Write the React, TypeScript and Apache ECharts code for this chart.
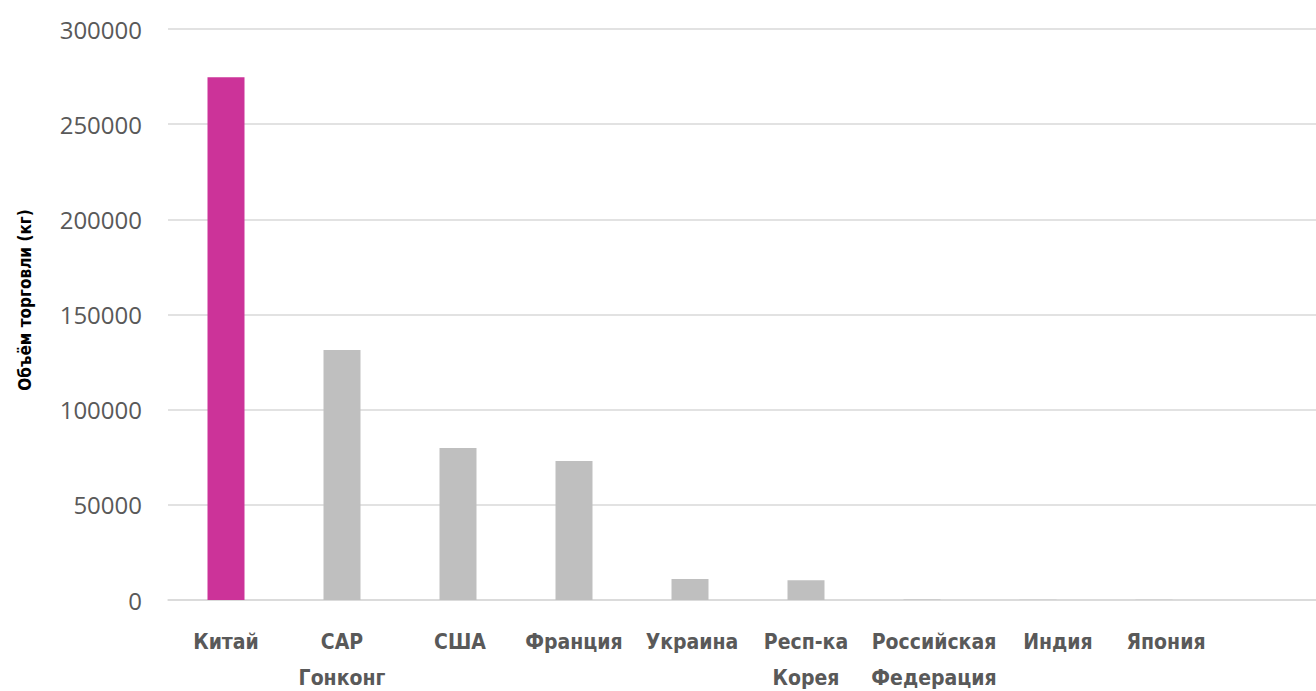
import React, { useEffect, useRef } from "react";
import * as echarts from "echarts";

const categories = [
  "Китай",
  "САР\nГонконг",
  "США",
  "Франция",
  "Украина",
  "Респ-ка\nКорея",
  "Российская\nФедерация",
  "Индия",
  "Япония",
  "",
];
const values = [274700, 131300, 79900, 73000, 11000, 10400, 200, 120, 80, null];
const highlightIndex = 0;
const yTicks = { min: 0, max: 300000, interval: 50000 };
const yAxisTitle = "Объём торговли (кг)";

const HIGHLIGHT = "#CC3399";
const GREY = "#BFBFBF";
const labelShift = [0, 0, 2, 0, 2, 0, 12, 20, 12, 0];

export default function App() {
  const ref = useRef<HTMLDivElement>(null);
  useEffect(() => {
    document.body.style.margin = "0";
    const chart = echarts.init(ref.current!, null, { renderer: "svg" });
    chart.setOption({
      animation: false,
      backgroundColor: "#ffffff",
      grid: {
        left: 168,
        top: 29,
        width: 1160,
        height: 571,
        containLabel: false,
        outerBoundsMode: "none",
      },
      xAxis: {
        type: "category",
        data: categories.map((c, i) => ({
          value: c,
          textStyle: labelShift[i] ? { padding: [0, 0, 0, labelShift[i] * 2] } : {},
        })),
        axisLine: { show: true, lineStyle: { color: "#D9D9D9", width: 1.5 } },
        axisTick: { show: false },
        axisLabel: {
          interval: 0,
          margin: 24,
          color: "#595959",
          fontFamily: "'DejaVu Sans Condensed', sans-serif",
          fontWeight: "bold",
          fontSize: 21,
          lineHeight: 36,
        },
      },
      yAxis: {
        type: "value",
        min: yTicks.min,
        max: yTicks.max,
        interval: yTicks.interval,
        axisLine: { show: false },
        axisTick: { show: false },
        splitLine: { lineStyle: { color: "#D9D9D9", width: 1.5 } },
        axisLabel: {
          margin: 26,
          color: "#595959",
          fontFamily: "'Open Sans', sans-serif",
          fontSize: 24,
          formatter: (v: number) => String(v),
        },
      },
      graphic: [
        {
          type: "text",
          x: 25,
          y: 300,
          rotation: Math.PI / 2,
          style: {
            text: yAxisTitle,
            fill: "#000000",
            font: "bold 17px 'DejaVu Sans Condensed', sans-serif",
            align: "center",
            verticalAlign: "middle",
          },
        },
      ],
      series: [
        {
          type: "bar",
          barWidth: 37,
          data: values.map((v, i) => ({
            value: v,
            itemStyle: { color: i === highlightIndex ? HIGHLIGHT : GREY },
          })),
        },
      ],
    });
    return () => chart.dispose();
  }, []);
  return (
    <div style={{ width: 1316, height: 691, overflow: "hidden" }}>
      <div ref={ref} style={{ width: 1340, height: 691 }} />
    </div>
  );
}
